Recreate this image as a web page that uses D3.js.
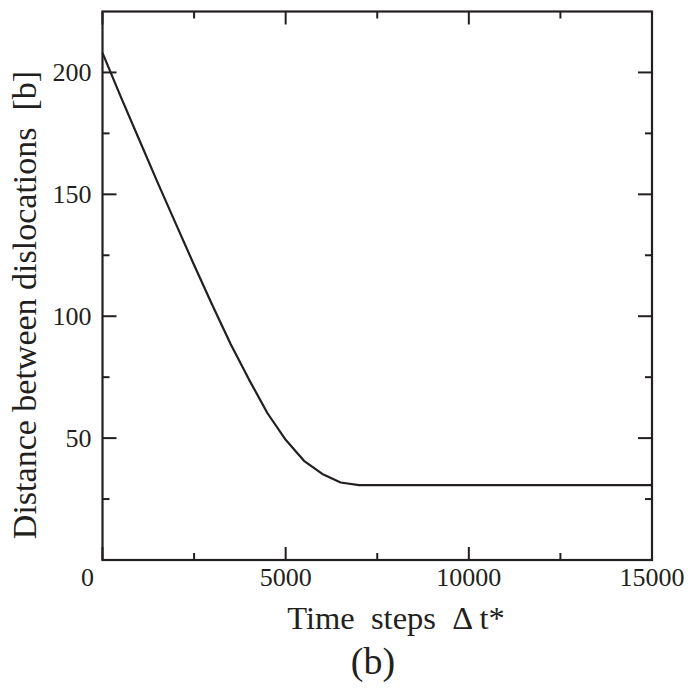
<!DOCTYPE html>
<html lang="en">
    <head>
        <meta charset="UTF-8">
        <title>Distance between dislocations</title>
        <script src="https://d3js.org/d3.v7.min.js"></script>
        <style>
            html, body {
                margin: 0;
                background-color: white;
            }
        </style>
    </head>
    <body>
        <div id="chart"></div>
        <script>

            const steps = [0, 500, 1000, 1500, 2000, 2500, 3000, 3500, 4000, 4500, 5000, 5500, 6000, 6500, 7000,
                7500, 8000, 8500, 9000, 9500, 10000, 10500, 11000, 11500, 12000, 12500, 13000, 13500, 14000, 14500, 15000];
            const distance = [208, 190, 172.5, 155, 138, 121, 104.5, 88.5, 74, 60.3, 49.3, 40.7, 35.3, 31.8, 30.7,
                30.7, 30.7, 30.7, 30.7, 30.7, 30.7, 30.7, 30.7, 30.7, 30.7, 30.7, 30.7, 30.7, 30.7, 30.7, 30.7];

            const xMajor = [0, 5000, 10000, 15000];
            const xMinor = [2500, 7500, 12500];
            const yMajor = [50, 100, 150, 200];
            const yMinor = [25, 75, 125, 175];

            const width = 692;
            const height = 693;
            const margin = {top: 11.5, right: 40, bottom: 133, left: 102.5};
            const ink = "#231f20";
            const serif = "'Liberation Serif', 'Times New Roman', serif";

            const x = d3.scaleLinear()
                .domain([0, 15000])
                .range([margin.left, width - margin.right]);

            const y = d3.scaleLinear()
                .domain([0, 225])
                .range([height - margin.bottom, margin.top]);

            const svg = d3.select("#chart")
                .append("svg")
                .attr("width", width)
                .attr("height", height);

            const x0 = x.range()[0], x1 = x.range()[1];
            const y0 = y.range()[0], y1 = y.range()[1];

            // ticks point inward on all four sides
            const tickGroup = svg.append("g")
                .attr("stroke", ink)
                .attr("stroke-width", 2);

            const addTicks = (vals, len) => {
                vals.forEach(v => {
                    tickGroup.append("line").attr("x1", x(v)).attr("x2", x(v)).attr("y1", y0).attr("y2", y0 - len);
                    tickGroup.append("line").attr("x1", x(v)).attr("x2", x(v)).attr("y1", y1).attr("y2", y1 + len);
                });
            };
            const addYTicks = (vals, len) => {
                vals.forEach(v => {
                    tickGroup.append("line").attr("y1", y(v)).attr("y2", y(v)).attr("x1", x0).attr("x2", x0 + len);
                    tickGroup.append("line").attr("y1", y(v)).attr("y2", y(v)).attr("x1", x1).attr("x2", x1 - len);
                });
            };
            addTicks(xMajor, 13);
            addTicks(xMinor, 7);
            addYTicks(yMajor, 14);
            addYTicks(yMinor, 7);

            svg.append("rect")
                .attr("x", x0)
                .attr("y", y1)
                .attr("width", x1 - x0)
                .attr("height", y0 - y1)
                .attr("fill", "none")
                .attr("stroke", ink)
                .attr("stroke-width", 2.2);

            const line = d3.line()
                .x((d, i) => x(steps[i]))
                .y(d => y(d));

            svg.append("path")
                .datum(distance)
                .attr("d", line)
                .attr("fill", "none")
                .attr("stroke", ink)
                .attr("stroke-width", 2.2)
                .attr("stroke-linejoin", "round");

            const label = (sel, size) => sel
                .attr("fill", ink)
                .attr("font-family", serif)
                .attr("font-size", size);

            // tick labels
            svg.selectAll(".xlabel")
                .data(xMajor)
                .enter().append("text")
                .attr("class", "xlabel")
                .attr("x", d => d === 0 ? x(d) - 15 : x(d))
                .attr("y", y0 + 26)
                .attr("text-anchor", "middle")
                .call(label, 26)
                .text(d => d);

            svg.selectAll(".ylabel")
                .data(yMajor)
                .enter().append("text")
                .attr("class", "ylabel")
                .attr("x", x0 - 11)
                .attr("y", d => y(d) + 9)
                .attr("text-anchor", "end")
                .call(label, 26)
                .text(d => d);

            // axis titles
            svg.append("text")
                .attr("x", 396)
                .attr("y", 629)
                .attr("text-anchor", "middle")
                .style("white-space", "pre")
                .call(label, 32.5)
                .text("Time  steps  \u0394 t*");

            svg.append("text")
                .attr("transform", "translate(36, 305) rotate(-90)")
                .attr("text-anchor", "middle")
                .style("white-space", "pre")
                .call(label, 34)
                .text("Distance between dislocations  [b]");

            svg.append("text")
                .attr("x", 373)
                .attr("y", 674)
                .attr("text-anchor", "middle")
                .call(label, 38)
                .text("(b)");

        </script>
    </body>
</html>
